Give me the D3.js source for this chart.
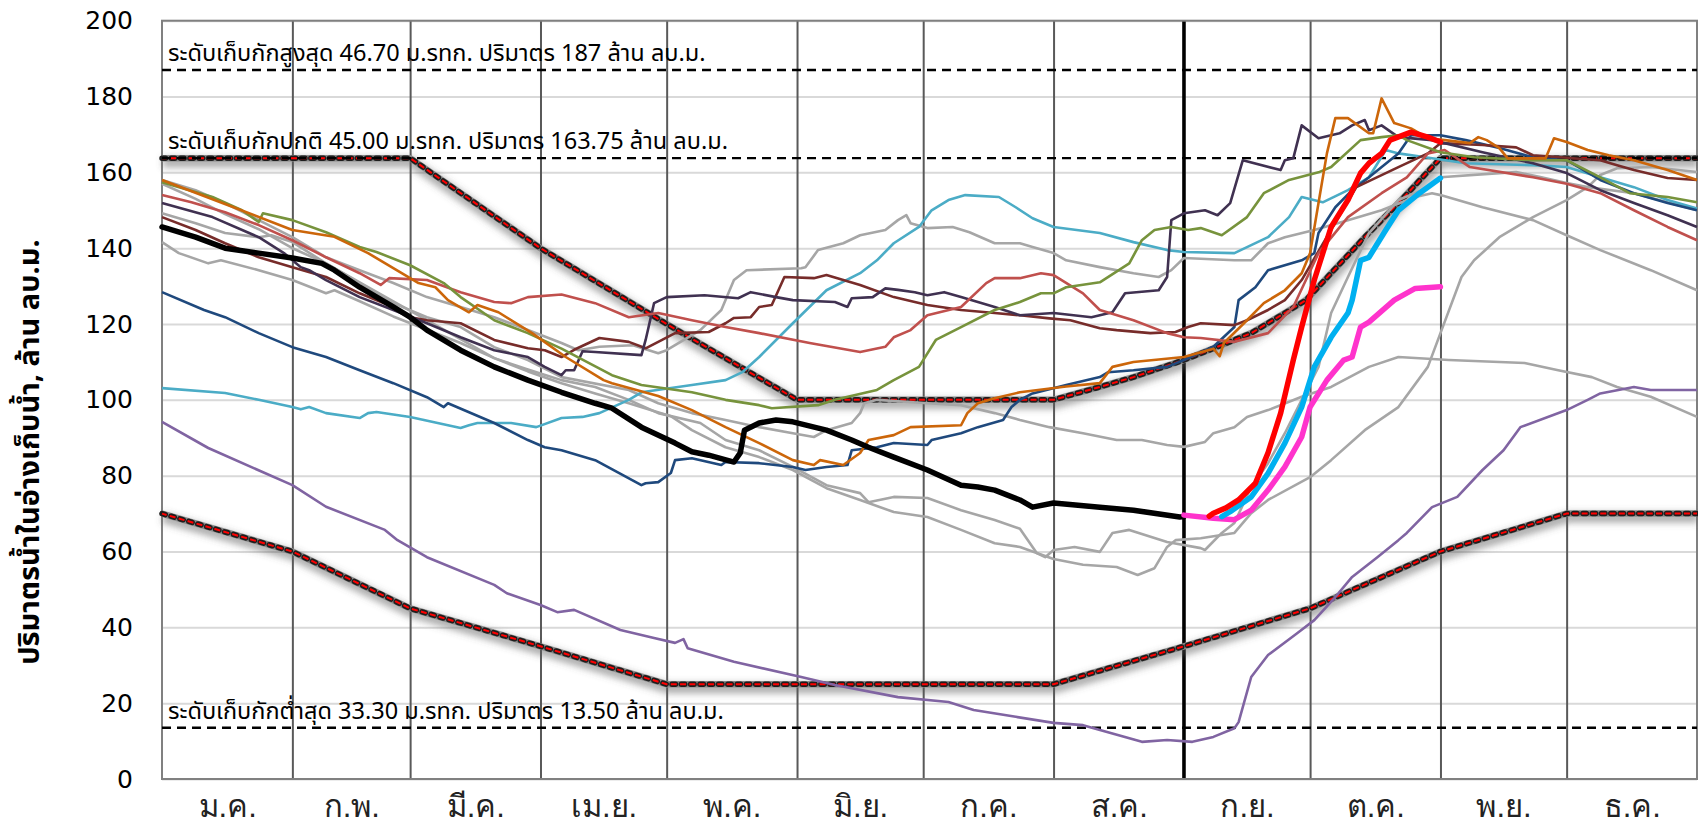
<!DOCTYPE html>
<html>
<head>
<meta charset="utf-8">
<script src="https://cdn.jsdelivr.net/npm/d3@7"></script>
<style>
  body { margin: 0; background: #fff; }
  svg { display: block; font-family: Tahoma, "Noto Sans Thai", "Noto Sans", "DejaVu Sans", sans-serif; }
</style>
</head>
<body>
<svg id="chart" width="1698" height="823"></svg>
<script>
// ---- data (x = day of year, y = million m3) ----
var monthNames = ["ม.ค.", "ก.พ.", "มี.ค.", "เม.ย.", "พ.ค.", "มิ.ย.", "ก.ค.", "ส.ค.", "ก.ย.", "ต.ค.", "พ.ย.", "ธ.ค."];
var monthDays = [31, 28, 31, 30, 31, 30, 31, 31, 30, 31, 30, 31];
var yTicks = [0, 20, 40, 60, 80, 100, 120, 140, 160, 180, 200];

var refValues = [187, 163.75, 13.5];
var refLabels = [
  "ระดับเก็บกักสูงสุด 46.70 ม.รทก. ปริมาตร 187 ล้าน ลบ.ม.",
  "ระดับเก็บกักปกติ 45.00 ม.รทก. ปริมาตร 163.75 ล้าน ลบ.ม.",
  "ระดับเก็บกักต่ำสุด 33.30 ม.รทก. ปริมาตร 13.50 ล้าน ลบ.ม."
];
var todayDay = 243; // 1 ก.ย.

var ruleUpper = [[0,163.75],[59,163.75],[90,140],[120,120],[151,100],[212,100],[223,103.4],[231,106],[243,110.5],[251,114],[259,117.6],[267,122.9],[272,126.3],[278,133.4],[286,142.9],[294,151.9],[304,163.75],[365,163.75]];
var ruleLower = [[0,70],[31,60],[59,45],[90,35],[120,25],[212,25],[243,35],[273,45],[304,60],[334,70],[365,70]];

var grayS = [[0,149.2],[8,146.6],[15,144],[23,142.9],[26,143.4],[31,141.6],[39,136],[47,130.8],[55,125.5],[63,121.8],[71,119.2],[79,113.9],[87,110.5],[95,106],[111,102.6],[118,99.1],[126,96.5],[134,94.7],[142,92.8],[150,91.2],[155,90.2],[158,92],[164,93.9],[166,96.5],[167,99.1],[170,100],[182,99.1],[190,98.6],[198,96.5],[204,94.7],[211,92.8],[219,91.2],[227,89.4],[233,89.4],[239,88.1],[243,87.6],[248,88.9],[250,91.2],[255,92.8],[258,95.5],[263,97.3],[271,100.8],[278,103.4],[287,108.7],[294,111.3],[306,110.5],[324,109.7],[332,107.8],[340,106],[346,103.4],[354,100.8],[365,95.5]];
var grayQ = [[0,158],[8,155.3],[15,151.9],[23,147.4],[31,142.9],[39,137.6],[47,134.2],[55,130.8],[63,127.1],[71,124.5],[79,121.8],[87,118.4],[95,115],[99,113.1],[104,114],[112,114.4],[118,112.3],[120,113.1],[128,118.4],[133,123.7],[136,131.6],[139,134.2],[152,134.7],[153,135],[156,139.5],[162,141.3],[166,143.4],[172,144.8],[175,147.4],[177,148.7],[178,146.6],[182,145.3],[188,145.6],[192,144.2],[198,141.3],[204,141.3],[207,140.3],[212,138.7],[215,136.8],[223,135],[231,133.4],[237,132.4],[240,134.2],[243,137.4],[255,136.8],[259,136.8],[263,141.3],[267,142.9],[274,144.8],[282,147.4],[290,150],[298,153.5],[302,154.5],[304,154],[314,150.8],[326,147.4],[334,143.4],[342,139.5],[354,134.2],[365,128.9]];
var grayP = [[0,141.6],[4,138.7],[11,136],[14,136.8],[23,134.2],[31,131.6],[39,128.1],[41,128.9],[47,126],[55,122],[63,118.5],[71,115],[79,111],[87,108],[95,105.2],[103,103.4],[111,100],[118,96.5],[128,93.9],[134,89.4],[142,86.7],[150,82.3],[158,77.5],[166,75.4],[168,73],[174,74.4],[182,74.1],[190,70.9],[198,68.3],[204,66],[208,59.6],[210,58.5],[212,60.4],[217,61.2],[223,59.9],[226,64.9],[230,65.7],[239,62.5],[247,60.9],[248,60.4],[252,64.9],[255,67.5],[259,77],[263,83.3],[267,91.2],[271,100],[275,108.7],[278,122.9],[282,132.4],[287,144],[294,152.7],[300,155.5],[304,158.7],[318,159.8],[322,160.1],[328,158.7],[334,157.2],[339,156.1],[350,154.5],[365,150]];
var grayR = [[0,157],[8,153],[15,149],[23,145],[31,140],[39,136],[47,131],[55,126],[63,121],[71,116],[79,111],[87,107.5],[95,104.4],[103,101.7],[111,99.1],[121,95.7],[126,92],[134,87.5],[142,84.9],[150,81.5],[158,76.7],[166,73.6],[174,70.4],[182,69.1],[190,65.7],[198,62.2],[204,61.2],[212,58],[219,56.5],[227,55.9],[232,53.8],[236,55.6],[239,61.2],[241,63],[247,63.5],[255,64.9],[259,70.1],[263,73.6],[273,79.6],[278,84.1],[286,92],[294,98.1],[301,108.7],[304,117.6],[309,132.4],[312,136.8],[318,142.9],[326,148.2],[334,152.7],[339,156.1],[342,159.3],[346,161.1],[354,161.4],[365,160.1]];

var histOrange = [[0,158],[17,150.8],[31,144.8],[41,143],[49,138.7],[57,133.4],[61,130.8],[65,129.7],[68,126.3],[73,123.1],[75,125],[80,123.1],[88,117.6],[96,111.3],[105,105.2],[107,104.4],[118,101],[126,97.3],[134,92.8],[142,88.6],[150,84.1],[155,82.8],[156.5,84.1],[162,82.8],[166,86],[168,89.4],[174,90.7],[178,92.8],[190,93.3],[191.5,96.5],[194,99.1],[198,100.4],[204,102],[215,103.5],[223,104.4],[226,108.7],[231,110],[243,111.3],[250,113.5],[251.5,111.5],[252.5,115],[258,121],[262,125.5],[267,128.9],[271,133.4],[273,138.7],[275,151.9],[277,165],[279,174.3],[282,174.3],[287,170.3],[288,170.3],[290,179.5],[293,173],[297,171.6],[301,169],[305,168.5],[311,167.7],[313,169.3],[315,168.5],[318,166.4],[320,163.7],[329,163.7],[331,169],[334,168],[339,165.9],[344,164.5],[350,163.2],[358,160.6],[365,158]];
var histGreen = [[0,157.4],[12,153.5],[19,150],[23,146.9],[24,149.2],[31,147.4],[39,144.2],[47,140.3],[51,139],[59,135.5],[67,130.8],[71,127.1],[79,121],[87,117.6],[95,113.5],[107,106.5],[114,103.9],[126,102],[134,100],[142,98.6],[145,97.8],[156,98.6],[160,100],[170,102.6],[174,105.2],[180,108.7],[184,115.8],[190,119.2],[198,123.7],[204,125.8],[209,128.1],[212,128.1],[215,129.7],[223,131],[230,136],[233,142.1],[236,144.8],[240,145.6],[244,144.8],[247,145.3],[252,143.4],[258,148.2],[262,154.5],[268,158],[275,160],[278,161.4],[285,168.5],[290,169.3],[294,169.8],[296,168.5],[304,165.3],[312,164],[326,163.2],[334,163.2],[342,158.7],[349,154.5],[358,153.5],[365,152.1]];
var histRed = [[0,154],[7,152.1],[15,149.5],[23,146.1],[31,142.1],[39,137.6],[47,133.4],[52,130.3],[54,132.1],[63,131.6],[71,128.4],[79,125.8],[83,125.5],[87,127.1],[95,127.8],[103,125.5],[111,121.8],[118,122.9],[126,121],[134,119.2],[142,117.6],[154,115],[166,112.6],[172,114],[174,116.5],[178,118.4],[182,122.3],[190,124.5],[196,130.8],[198,132.1],[204,132.1],[209,133.4],[212,132.9],[219,128.1],[223,123.7],[231,121],[239,117.6],[243,116.5],[247,116.3],[255,115.3],[263,117.6],[269,124.5],[275,138.7],[282,148.2],[290,154.5],[296,158.7],[301,165],[305,165.9],[311,161.4],[326,158.7],[334,157],[342,154.5],[350,150],[358,145.6],[365,142.1]];
var histPlum = [[0,151.9],[12,148.2],[23,142.9],[29,138.7],[33,135],[35,134.2],[39,131.6],[47,127.1],[55,123.7],[63,120.2],[71,116.5],[79,113.1],[87,111.3],[91,108.7],[95,106.5],[96,107.8],[98,107.8],[100,112.8],[103,112.6],[114,111.8],[115,115.8],[117,125.5],[120,127.1],[129,127.6],[137,126.8],[140,128.4],[146,127.1],[150,126.3],[160,125.8],[163,124.5],[164,126.8],[169,127.1],[172,129.4],[175,129],[179,128.4],[182,127.6],[186,128.4],[190,127.1],[198,124.5],[204,122.3],[212,122.9],[221,121.8],[226,123.1],[229,128.1],[237,128.9],[239,132.4],[240,147.4],[243,149.2],[248,150],[251,148.7],[254,151.9],[257,163.2],[266,160.6],[267,163.2],[269,163.7],[271,172.4],[275,169],[280,170.3],[283,172.4],[286,173.8],[287,171.1],[290,172.4],[294,169.3],[302,168.5],[314,165.3],[326,162.4],[334,159.8],[342,155.3],[350,151.9],[358,148.7],[365,145.6]];
var histMaroon = [[0,148.2],[8,144.8],[15,141.3],[23,137.6],[31,135],[39,132.4],[47,128.1],[55,124.5],[59,121.8],[63,121],[71,120.2],[79,115.8],[87,113.6],[91,113.1],[95,111.3],[98,113.2],[104,116.3],[111,115.3],[115,113.6],[118,115.3],[122,117.6],[130,117.9],[134,120.2],[136,121.6],[140,121.8],[142,124.5],[145,125],[148,132.4],[155,132.1],[158,132.9],[166,130.3],[174,127.1],[182,125],[190,123.7],[198,122.9],[204,122.3],[211,121.5],[216,121],[223,118.9],[227,118.4],[235,117.6],[241,117.9],[244,119.2],[247,120.2],[255,119.7],[258,121],[263,123.7],[267,126.3],[271,131.6],[277,143],[284,156.1],[294,161.4],[301,165],[304,167.7],[314,167.2],[322,166.6],[326,164.5],[342,163.2],[346,161.9],[350,160.6],[358,158.5],[365,158]];
var histNavy = [[0,128.4],[10,123.7],[15,121.8],[23,117.6],[31,113.9],[39,111.3],[47,107.8],[55,104.4],[63,100.7],[67,98.1],[68,99.1],[79,93.9],[87,89.4],[91,87.5],[95,86.7],[103,84.1],[114,77.5],[115,78],[118,78.3],[121,80.7],[122,84.1],[126,84.6],[133,82.8],[134,83.6],[142,83.3],[150,82.3],[153,81.5],[158,82.3],[163,82.8],[164,86.7],[170,87.5],[174,88.6],[182,88.1],[183,89.4],[190,91.2],[194,92.8],[200,94.7],[202,98.1],[204,100],[207,101.7],[215,103.9],[223,106],[225,107.3],[231,107.8],[239,108.7],[243,110.5],[250,114],[255,119.2],[256,126.3],[260,129.7],[263,134.2],[271,136.8],[274,138.7],[275,144],[279,150.8],[283,155.3],[287,158.7],[294,165],[297,169.8],[304,169.8],[310,168.5],[318,166.4],[326,164],[334,163.2],[342,158],[350,154.5],[358,151.9],[365,150]];
var histCyan = [[0,103.1],[15,101.8],[23,100],[31,98.1],[33,97.5],[35,98.1],[39,96.5],[47,95.2],[49,96.5],[51,96.8],[59,95.5],[71,92.6],[73,93.3],[75,93.9],[83,93.9],[89,92.8],[95,95.2],[100,95.5],[104,96.5],[111,100],[114,102],[126,103.9],[134,105.2],[138,107.3],[142,111.3],[150,120.2],[158,128.9],[166,133.4],[170,136.8],[174,141.3],[180,145.6],[183,150],[187,152.7],[191,154],[199,153.5],[203,150.8],[207,147.9],[212,145.6],[223,144],[231,141.6],[239,139.5],[243,139],[255,138.7],[263,142.9],[268,148.2],[271,153.5],[276,152.1],[282,155.3],[287,158.7],[291,165.9],[294,165],[302,163.7],[310,162.4],[326,161.9],[334,161.4],[342,158.7],[350,156.1],[358,152.7],[365,150.5]];
var histPurple = [[0,94.2],[11,87.3],[31,77.5],[39,71.8],[53,65.7],[56,63],[63,58.5],[79,51.2],[82,49],[90,45.9],[94,44],[98,44.6],[109,39.3],[117,37.2],[122,35.9],[124,36.9],[125,34.5],[136,30.9],[152,26.9],[160,24.8],[175,21.6],[187,20.3],[193,18.2],[203,16.4],[212,14.8],[219,14.2],[233,9.8],[239,10.3],[245,9.8],[250,11.1],[255,13.4],[256,15],[259,26.9],[263,32.7],[270,38.5],[274,41.9],[279,48],[283,53.3],[289,58.5],[294,63],[296,64.9],[302,71.7],[308,74.4],[314,81.5],[319,86.7],[323,92.8],[334,97.3],[339,100],[342,101.7],[350,103.4],[354,102.6],[365,102.6]];

var current = [[0,145.6],[8,142.9],[15,140],[23,138.7],[31,137.4],[38,136],[41,134.2],[47,129.7],[55,124.5],[59,121.8],[63,118.4],[71,113.1],[79,108.7],[87,105.2],[95,102],[103,99.1],[107,97.8],[114,92.8],[122,88.6],[126,86.3],[130,85.4],[136,83.6],[137.5,86],[138.5,92],[142,93.9],[146,94.7],[150,94.2],[158,92],[164,89.4],[168,87.5],[174,84.9],[182,81.5],[190,77.5],[194,77],[198,76.2],[204,73.6],[207,71.7],[212,72.8],[223,71.7],[231,70.9],[242,69.1],[243,69.2]];
var fcPink = [[243,69.6],[250,68.8],[255,68.4],[259,70.9],[263,76.2],[267,82.3],[271,90.2],[273,98.1],[277,105.2],[281,110.5],[283,111.3],[285,119.2],[287,120.5],[293,126.3],[298,129.4],[304,129.8]];
var fcBlue = [[252,69.2],[254,70.5],[259,74.4],[263,80.6],[267,88.6],[271,98.1],[274,108.7],[278,116.5],[282,122.9],[283,126.3],[285,136.8],[287,137.6],[291,144.8],[294,150],[299,154.5],[304,158.5]];
var fcRed = [[249,69.3],[250,70.1],[253,71.5],[256,73.6],[260,78],[263,86],[266,96.5],[269,110.5],[271,119.2],[274,131.6],[278,145.6],[282,152.7],[285,159.8],[287,162.4],[290,165],[292,168.5],[297,170.6],[301,169.3],[304,168]];

// ---- layout ----
var svg = d3.select("#chart"),
    plotL = 162, plotR = 1697, plotT = 20.7, plotB = 779;

var x = d3.scaleLinear().domain([0, 365]).range([plotL, plotR]);
var y = d3.scaleLinear().domain([0, 200]).range([plotB, plotT]);

var monthStarts = [0].concat(Array.from(d3.cumsum(monthDays)).slice(0, 11)); // first day of each month
var monthMids = monthStarts.map(function (s, i) { return s + monthDays[i] / 2; });

// soft shadow for the rule curves
var defs = svg.append("defs");
defs.append("filter").attr("id", "glow")
    .attr("x", "-5%").attr("y", "-30%").attr("width", "110%").attr("height", "160%")
  .append("feGaussianBlur").attr("stdDeviation", 3.5);

// horizontal grid
svg.append("g")
    .attr("transform", "translate(" + plotL + ",0)")
    .call(d3.axisLeft(y).tickValues(yTicks).tickSize(-(plotR - plotL)).tickFormat(""))
    .call(function (g) { g.select(".domain").remove(); })
    .selectAll("line").attr("stroke", "#d9d9d9").attr("stroke-width", 2);

// y tick labels
svg.append("g")
    .attr("transform", "translate(" + plotL + ",0)")
    .call(d3.axisLeft(y).tickValues(yTicks).tickSize(0).tickPadding(29))
    .call(function (g) { g.select(".domain").remove(); })
    .selectAll("text").attr("font-size", 25).attr("fill", "#000")
    .style("font-family", "Tahoma, 'DejaVu Sans', sans-serif");

// month separators
svg.append("g")
    .attr("transform", "translate(0," + plotB + ")")
    .call(d3.axisBottom(x).tickValues(monthStarts.slice(1)).tickSize(-(plotB - plotT)).tickFormat(""))
    .call(function (g) { g.select(".domain").remove(); })
    .selectAll("line").attr("stroke", "#595959").attr("stroke-width", 2);

// "today" line
svg.append("line")
    .attr("x1", x(todayDay)).attr("x2", x(todayDay))
    .attr("y1", plotT).attr("y2", plotB)
    .attr("stroke", "#000").attr("stroke-width", 3.5);

// month labels
svg.append("g")
    .attr("transform", "translate(0," + plotB + ")")
    .call(d3.axisBottom(x).tickValues(monthMids).tickSize(0).tickPadding(16)
        .tickFormat(function (d, i) { return monthNames[i]; }))
    .call(function (g) { g.select(".domain").remove(); })
    .selectAll("text").attr("font-size", 31).attr("fill", "#222");

// plot border
svg.append("rect")
    .attr("x", plotL).attr("y", plotT)
    .attr("width", plotR - plotL).attr("height", plotB - plotT)
    .attr("fill", "none").attr("stroke", "#808080").attr("stroke-width", 2);

var line = d3.line()
    .x(function (d) { return x(d[0]); })
    .y(function (d) { return y(d[1]); });

// rule curves: blurred grey halo, dark rounded dashes, red dashes inside
[ruleUpper, ruleLower].forEach(function (r) {
  svg.append("path").attr("d", line(r))
      .attr("transform", "translate(1,4)")
      .attr("fill", "none").attr("stroke", "#555").attr("stroke-opacity", 0.5)
      .attr("stroke-width", 10).attr("filter", "url(#glow)");
  svg.append("path").attr("d", line(r))
      .attr("fill", "none").attr("stroke", "#8a8a8a").attr("stroke-width", 6.5);
  svg.append("path").attr("d", line(r))
      .attr("fill", "none").attr("stroke", "#1e1e1e").attr("stroke-width", 5.5)
      .attr("stroke-linecap", "round").attr("stroke-dasharray", "3.5 5.8");
  svg.append("path").attr("d", line(r))
      .attr("fill", "none").attr("stroke", "#ff0000").attr("stroke-width", 2)
      .attr("stroke-dasharray", "6 3.3").attr("stroke-dashoffset", 1.25);
});

// reference levels
svg.selectAll(".ref").data(refValues).enter().append("line")
    .attr("x1", plotL).attr("x2", plotR)
    .attr("y1", function (d) { return y(d); }).attr("y2", function (d) { return y(d); })
    .attr("stroke", "#000").attr("stroke-width", 2.4).attr("stroke-dasharray", "9 6");

svg.selectAll(".reflabel").data(refLabels).enter().append("text")
    .attr("x", plotL + 6)
    .attr("y", function (d, i) { return y(refValues[i]) - 9; })
    .attr("font-size", 23.5).attr("fill", "#000")
    .text(function (d) { return d; });

// past years
var pastYears = [
  { d: grayS, c: "#a6a6a6" }, { d: grayQ, c: "#a6a6a6" }, { d: grayP, c: "#a6a6a6" }, { d: grayR, c: "#a6a6a6" },
  { d: histPurple, c: "#8064a2" }, { d: histCyan, c: "#4bacc6" }, { d: histNavy, c: "#1f497d" },
  { d: histMaroon, c: "#772c2a" }, { d: histPlum, c: "#403151" }, { d: histRed, c: "#c0504d" },
  { d: histGreen, c: "#77933c" }, { d: histOrange, c: "#cc660a" }
];
svg.selectAll(".hist").data(pastYears).enter().append("path")
    .attr("d", function (s) { return line(s.d); })
    .attr("fill", "none").attr("stroke", function (s) { return s.c; })
    .attr("stroke-width", 2.6).attr("stroke-linejoin", "round");

// current year and outlooks
var boldLines = [
  { d: current, c: "#000000" }, { d: fcPink, c: "#ff33cc" },
  { d: fcBlue, c: "#00b0f0" }, { d: fcRed, c: "#ff0000" }
];
svg.selectAll(".bold").data(boldLines).enter().append("path")
    .attr("d", function (s) { return line(s.d); })
    .attr("fill", "none").attr("stroke", function (s) { return s.c; })
    .attr("stroke-width", 5.5).attr("stroke-linejoin", "round").attr("stroke-linecap", "round");

// y axis title
svg.append("text")
    .attr("transform", "translate(39,452) rotate(-90)")
    .attr("text-anchor", "middle")
    .attr("font-size", 29).attr("font-weight", "bold").attr("fill", "#000")
    .text("ปริมาตรน้ำในอ่างเก็บน้ำ, ล้าน ลบ.ม.");
</script>
</body>
</html>
